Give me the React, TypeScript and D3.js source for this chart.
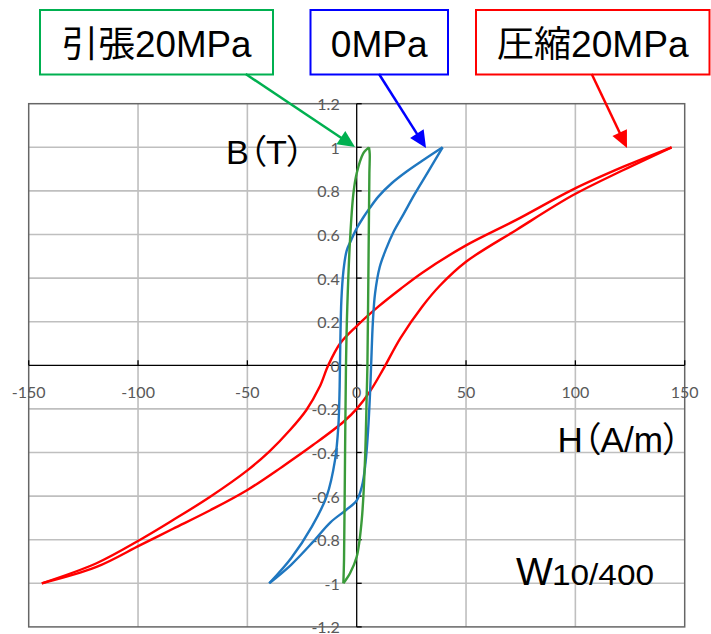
import React from 'react';
import * as d3 from 'd3';

type Pt = [number, number];

const xTicks = [-150, -100, -50, 0, 50, 100, 150];
const xTickLabels = ['-150', '-100', '-50', '0', '50', '100', '150'];
const yTicks = [-1.2, -1, -0.8, -0.6, -0.4, -0.2, 0, 0.2, 0.4, 0.6, 0.8, 1, 1.2];
const yTickLabels = ['-1.2', '-1', '-0.8', '-0.6', '-0.4', '-0.2', '0', '0.2', '0.4', '0.6', '0.8', '1', '1.2'];

// 圧縮20MPa (compression) loop
const redDown: Pt[] = [
  [144, 1.0], [122, 0.911], [99, 0.807], [73, 0.667], [50, 0.55], [30, 0.425], [20, 0.35],
  [10, 0.27], [0, 0.18], [-7.6, 0.1], [-13, 0.0], [-17, -0.1], [-23, -0.205],
  [-30.5, -0.297], [-40, -0.396], [-50, -0.482], [-67, -0.603], [-84, -0.71], [-99, -0.8],
  [-119, -0.908], [-144, -1.0],
];
const redUp: Pt[] = [
  [-144, -1.0], [-119, -0.925], [-99, -0.825], [-84, -0.75], [-67, -0.665], [-50, -0.572],
  [-34, -0.465], [-20, -0.366], [-6, -0.259], [0, -0.2], [6, -0.121], [12, -0.02], [20, 0.125],
  [30, 0.27], [38, 0.365], [50, 0.475], [73, 0.621], [99, 0.781], [122, 0.896], [144, 1.0],
];

// 0MPa loop
const blueDown: Pt[] = [
  [39.3, 1.0], [31, 0.945], [23, 0.89], [16, 0.835], [10, 0.775], [6, 0.722], [3, 0.678],
  [0, 0.628], [-2.5, 0.575], [-4.6, 0.525], [-6.1, 0.43], [-7.0, 0.3], [-7.5, 0.1],
  [-7.8, -0.1], [-8.4, -0.28], [-9.9, -0.434], [-13.7, -0.6], [-20.5, -0.74], [-30, -0.885],
  [-40, -1.0],
];
const blueUp: Pt[] = [
  [-40, -1.0], [-30, -0.915], [-20, -0.81], [-12, -0.72], [-5, -0.665], [0, -0.62], [2.5, -0.55],
  [4, -0.45], [5.2, -0.3], [6.1, -0.128], [6.6, 0.0], [7.4, 0.2], [8.4, 0.33], [10.5, 0.45],
  [13.5, 0.535], [17, 0.615], [21.5, 0.695], [26.5, 0.785], [32.5, 0.885], [39.3, 1.0],
];

// 引張20MPa (tension) loop
const greenDown: Pt[] = [
  [5.6, 1.0], [4.5, 0.99], [3, 0.972], [0, 0.881], [-1.5, 0.789], [-3.05, 0.575], [-4.3, 0.269],
  [-4.9, 0.0], [-5.35, -0.434], [-5.8, -0.893], [-6.1, -1.0],
];
const greenUp: Pt[] = [
  [-6.1, -1.0], [-5, -0.985], [-3.05, -0.954], [0, -0.878], [2.3, -0.71], [3.8, -0.434],
  [4.6, -0.128], [4.9, 0.0], [5.35, 0.422], [5.8, 0.881], [5.95, 0.97], [5.6, 1.0],
];

const series = [
  { name: '圧縮20MPa', color: '#FF0000', branches: [redDown, redUp] },
  { name: '0MPa', color: '#1F77C0', branches: [blueDown, blueUp] },
  { name: '引張20MPa', color: '#3A9B3A', branches: [greenDown, greenUp] },
];

const callouts = [
  { text: '引張20MPa', color: '#00B050', box: [40, 10, 273, 74.5], len: 190, from: [245.7, 74], tip: [355, 147] },
  { text: '0MPa', color: '#0000FF', box: [310.5, 10, 448, 74.5], len: 97, from: [379, 74], tip: [426, 148] },
  { text: '圧縮20MPa', color: '#FF0000', box: [476, 10, 709.5, 74.5], len: 192, from: [591.7, 74], tip: [627, 148] },
];

const latin = '"Liberation Sans", Arial, "Noto Sans CJK JP", sans-serif';
const tickFont = 'Lato, "Open Sans", sans-serif';

function Arrow({ from, tip, color }: { from: number[]; tip: number[]; color: string }) {
  const dx = tip[0] - from[0];
  const dy = tip[1] - from[1];
  const L = Math.hypot(dx, dy);
  const ux = dx / L, uy = dy / L;
  const hl = 17, hw = 8;
  const bx = tip[0] - ux * hl, by = tip[1] - uy * hl;
  const px = -uy, py = ux;
  const pts = [
    [tip[0], tip[1]],
    [bx + px * hw, by + py * hw],
    [bx - px * hw, by - py * hw],
  ];
  return (
    <g>
      <line x1={from[0]} y1={from[1]} x2={bx + ux * 2} y2={by + uy * 2} stroke={color} strokeWidth={2.5} />
      <polygon points={pts.map((p) => p.join(',')).join(' ')} fill={color} />
    </g>
  );
}

export default function App() {
  const x = d3.scaleLinear().domain([-150, 150]).range([28.7, 684.7]);
  const y = d3.scaleLinear().domain([-1.2, 1.2]).range([626.9, 103.7]);
  const line = d3
    .line<Pt>()
    .x((d) => x(d[0]))
    .y((d) => y(d[1]))
    .curve(d3.curveCatmullRom.alpha(0.5));

  const [x0, x1] = x.range();
  const [yb, yt] = y.range();

  return (
    <svg
      width={711}
      height={634}
      viewBox="0 0 711 634"
      style={{ position: 'absolute', left: 0, top: 0, background: '#fff' }}
    >
      <rect x={0} y={0} width={711} height={634} fill="#fff" />
      {/* gridlines */}
      {xTicks.filter((t) => t !== 0 && Math.abs(t) !== 150).map((t) => (
        <line key={'gx' + t} x1={x(t)} x2={x(t)} y1={yt} y2={yb} stroke="#BFBFBF" strokeWidth={1.6} />
      ))}
      {yTicks.filter((t) => t !== 0 && Math.abs(t) !== 1.2).map((t) => (
        <line key={'gy' + t} x1={x0} x2={x1} y1={y(t)} y2={y(t)} stroke="#BFBFBF" strokeWidth={1.6} />
      ))}
      {/* plot border */}
      <rect x={x0} y={yt} width={x1 - x0} height={yb - yt} fill="none" stroke="#666" strokeWidth={1.5} />
      {/* axes */}
      <line x1={x0} x2={x1} y1={y(0)} y2={y(0)} stroke="#000" strokeWidth={1.3} />
      <line x1={x(0)} x2={x(0)} y1={yt} y2={yb} stroke="#000" strokeWidth={1.3} />
      {xTicks.map((t) => (
        <line key={'tx' + t} x1={x(t)} x2={x(t)} y1={y(0)} y2={y(0) - 5} stroke="#000" strokeWidth={1.3} />
      ))}
      {yTicks.map((t) => (
        <line key={'ty' + t} x1={x(0)} x2={x(0) + 5} y1={y(t)} y2={y(t)} stroke="#000" strokeWidth={1.3} />
      ))}
      {/* tick labels */}
      {xTicks.map((t, i) => (
        <text
          key={'lx' + t}
          x={x(t)}
          y={y(0) + 26}
          textAnchor="middle"
          dominantBaseline="central"
          fontFamily={tickFont}
          fontSize={16}
          fill="#595959"
        >
          {xTickLabels[i]}
        </text>
      ))}
      {yTicks.map((t, i) => (
        <text
          key={'ly' + t}
          x={x(0) - 17}
          y={y(t)}
          textAnchor="end"
          dominantBaseline="central"
          fontFamily={tickFont}
          fontSize={16}
          fill="#595959"
        >
          {yTickLabels[i]}
        </text>
      ))}
      {/* curves */}
      {series.map((s) =>
        s.branches.map((b, j) => (
          <path key={s.name + j} d={line(b) || ''} fill="none" stroke={s.color} strokeWidth={2.4} strokeLinejoin="round" />
        ))
      )}
      {/* axis titles */}
      <text
        x={226}
        y={163.5}
        fontFamily={latin}
        fontSize={34}
        fill="#000"
        textLength={78}
        lengthAdjust="spacingAndGlyphs"
        style={{ fontFeatureSettings: '"palt"' }}
      >
        B（T）
      </text>
      <text
        x={557.5}
        y={451.7}
        fontFamily={latin}
        fontSize={35}
        fill="#000"
        textLength={123}
        lengthAdjust="spacingAndGlyphs"
        style={{ fontFeatureSettings: '"palt"' }}
      >
        H（A/m）
      </text>
      <text x={516} y={585} fontFamily={latin} fill="#000">
        <tspan fontSize={39}>W</tspan>
        <tspan x={552} fontSize={30} textLength={102} lengthAdjust="spacingAndGlyphs">
          10/400
        </tspan>
      </text>
      {/* callouts */}
      {callouts.map((c) => (
        <g key={c.text}>
          <rect
            x={c.box[0]}
            y={c.box[1]}
            width={c.box[2] - c.box[0]}
            height={c.box[3] - c.box[1]}
            fill="#fff"
            stroke={c.color}
            strokeWidth={2}
          />
          <text
            x={(c.box[0] + c.box[2]) / 2}
            y={57}
            textAnchor="middle"
            fontFamily={latin}
            fontSize={36}
            fill="#000"
            textLength={c.len}
            lengthAdjust="spacingAndGlyphs"
          >
            {c.text}
          </text>
          <Arrow from={c.from} tip={c.tip} color={c.color} />
        </g>
      ))}
    </svg>
  );
}
